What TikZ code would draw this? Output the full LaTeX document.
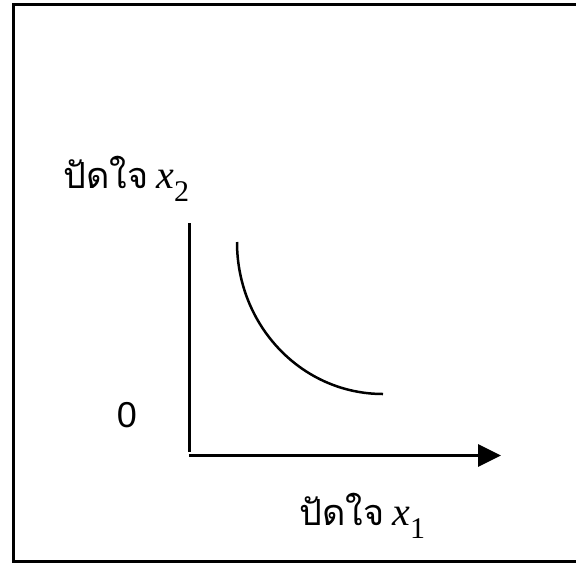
\documentclass[tikz,border=0pt]{standalone}
\usepackage{fontspec}
\setmainfont{Liberation Sans}
\newfontfamily\thaifont[Script=Thai]{Loma}
\newfontfamily\timesfont{Liberation Serif}
\usetikzlibrary{arrows.meta}
\newcommand{\varx}[1]{{\timesfont\itshape\fontsize{40}{44}\selectfont x}\raisebox{-13pt}{\timesfont\fontsize{30}{30}\selectfont #1}}

\begin{document}
\begin{tikzpicture}[x=1pt, y=-1pt, >={Triangle[length=23pt,width=22pt]}, line width=3pt,
  every node/.style={inner sep=0pt}, lbl/.style={anchor=base west, font=\thaifont\fontsize{36}{40}\selectfont}]
  \useasboundingbox (0,0) rectangle (576,563);
  \draw (576,4.5) -- (13,4.5) -- (13,561) -- (576,561);
  \coordinate (o) at (189.5,452);
  \coordinate (ytop) at (189.5,223);
  \coordinate (xstart) at (189,455.5);
  \coordinate (xend) at (501,455.5);
  \coordinate (cstart) at (237,242);
  \coordinate (cend) at (383,394);
  \node[lbl] (ylabel) at (62,188) {ปัดใจ\hspace{8pt}\varx{2}};
  \node[lbl] (xlabel) at (298,525) {ปัดใจ\hspace{8pt}\varx{1}};
  \node (zero) at (127,415) {\fontsize{36}{40}\selectfont 0};
  \draw (ytop) -- (o);
  \draw[->] (xstart) -- (xend);
  \draw[line width=2.5pt] (cstart) .. controls (237,326) and (302,394) .. (cend);
\end{tikzpicture}
\end{document}
